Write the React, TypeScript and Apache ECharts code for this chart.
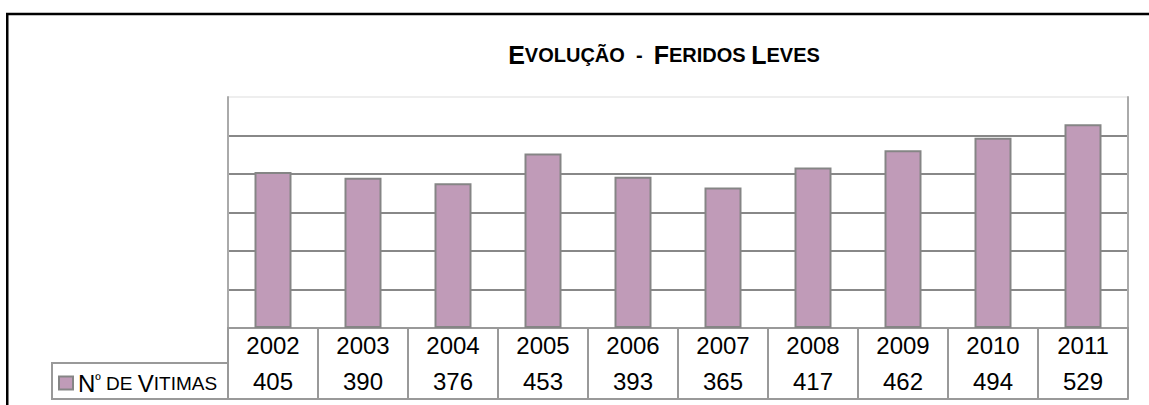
import React, { useEffect, useRef } from "react";
import * as echarts from "echarts";

const years = ["2002", "2003", "2004", "2005", "2006", "2007", "2008", "2009", "2010", "2011"];
const victims = [405, 390, 376, 453, 393, 365, 417, 462, 494, 529];
const seriesName = "Nº de Vitimas";
const titleText = "Evolução  -  Feridos Leves";
const yTicks = [0, 100, 200, 300, 400, 500, 600];

const FONT = "'Liberation Sans', Arial, sans-serif";
const BAR_COLOR = "#C09BB8";
const LINE_GREY = "#999999";

// Build small-caps rich text: capitals big, lowercase letters as small capitals
function smallCaps(text: string, big = "b", small = "s", sup = "p"): string {
  let out = "";
  let cur = "";
  let curStyle = "";
  const flush = () => {
    if (cur) out += `{${curStyle}|${cur}}`;
    cur = "";
  };
  for (const ch of text) {
    let st: string;
    let c = ch;
    if (ch === "º") st = sup;
    else if (ch !== ch.toLowerCase()) st = big;
    else if (ch !== ch.toUpperCase()) {
      st = small;
      c = ch.toUpperCase();
    } else st = small;
    if (st !== curStyle) {
      flush();
      curStyle = st;
    }
    cur += c;
  }
  flush();
  return out;
}

export default function App() {
  const ref = useRef<HTMLDivElement>(null);
  useEffect(() => {
    document.body.style.margin = "0";
    if (!ref.current) return;
    const chart = echarts.init(ref.current, undefined, { renderer: "svg" });
    const option: any = {
      animation: false,
      backgroundColor: "#ffffff",
      title: {
        text: smallCaps(titleText),
        left: 659,
        textAlign: "center",
        top: 37,
        textStyle: {
          rich: {
            b: { fontFamily: FONT, fontWeight: "bold", fontSize: 25, color: "#000" },
            s: { fontFamily: FONT, fontWeight: "bold", fontSize: 20, color: "#000" },
            p: { fontFamily: FONT, fontWeight: "bold", fontSize: 14, color: "#000" },
          },
        },
      },
      legend: {
        data: [seriesName],
        left: 53,
        top: 366,
        icon: "rect",
        itemWidth: 14,
        itemHeight: 13,
        formatter: (name: string) => smallCaps(name),
        textStyle: {
          rich: {
            b: { fontFamily: FONT, fontSize: 24, color: "#000" },
            s: { fontFamily: FONT, fontSize: 19, color: "#000" },
            p: { fontFamily: FONT, fontSize: 15, color: "#000", padding: [0, 0, 8, 0] },
          },
        },
      },
      grid: { left: 228, top: 97, width: 900, height: 231, containLabel: false },
      xAxis: [
        {
          type: "category",
          data: years,
          position: "bottom",
          boundaryGap: true,
          axisLine: { show: true, lineStyle: { color: LINE_GREY, width: 2 } },
          axisTick: { show: true, interval: 0, length: 71, lineStyle: { color: LINE_GREY, width: 2 } },
          axisLabel: {
            interval: 0,
            margin: 17,
            verticalAlign: "middle",
            fontFamily: FONT,
            fontSize: 24,
            color: "#000",
          },
        },
        {
          type: "category",
          data: years,
          position: "bottom",
          offset: 35,
          boundaryGap: true,
          axisLine: { show: true, lineStyle: { color: LINE_GREY, width: 2 } },
          axisTick: { show: false },
          axisLabel: {
            interval: 0,
            margin: 18,
            verticalAlign: "middle",
            fontFamily: FONT,
            fontSize: 24,
            color: "#000",
            formatter: (_v: string, i: number) => String(victims[i]),
          },
        },
        {
          type: "category",
          data: years,
          position: "bottom",
          offset: 71,
          boundaryGap: true,
          axisLine: { show: true, lineStyle: { color: LINE_GREY, width: 2 } },
          axisTick: { show: false },
          axisLabel: { show: false },
        },
      ],
      yAxis: [
        {
          type: "value",
          min: yTicks[0],
          max: yTicks[yTicks.length - 1],
          interval: 100,
          position: "left",
          axisLine: { show: true, lineStyle: { color: "#aaaaaa", width: 2 } },
          axisTick: { show: false },
          axisLabel: { show: false },
          splitLine: {
            show: true,
            lineStyle: {
              color: ["#888888", "#888888", "#888888", "#888888", "#888888", "#888888", "#eeeeee"],
              width: 2,
            },
          },
        },
        {
          type: "value",
          min: yTicks[0],
          max: yTicks[yTicks.length - 1],
          interval: 100,
          position: "right",
          axisLine: { show: true, lineStyle: { color: "#aaaaaa", width: 2 } },
          axisTick: { show: false },
          axisLabel: { show: false },
          splitLine: { show: false },
        },
      ],
      series: [
        {
          name: seriesName,
          type: "bar",
          data: victims,
          xAxisIndex: 0,
          yAxisIndex: 0,
          barWidth: 37,
          itemStyle: { color: BAR_COLOR, borderColor: "#858585", borderWidth: 2 },
        },
      ],
      graphic: [
        {
          type: "rect",
          shape: { x: 7.25, y: 14, width: 1300, height: 600 },
          style: { fill: "none", stroke: "#000", lineWidth: 2.5 },
          silent: true,
          z: 100,
        },
        {
          type: "rect",
          shape: { x: 52, y: 363, width: 176, height: 36 },
          style: { fill: "none", stroke: LINE_GREY, lineWidth: 2 },
          silent: true,
          z: 100,
        },
      ],
    };
    chart.setOption(option);
    return () => chart.dispose();
  }, []);
  return <div ref={ref} style={{ width: 1149, height: 405 }} />;
}
